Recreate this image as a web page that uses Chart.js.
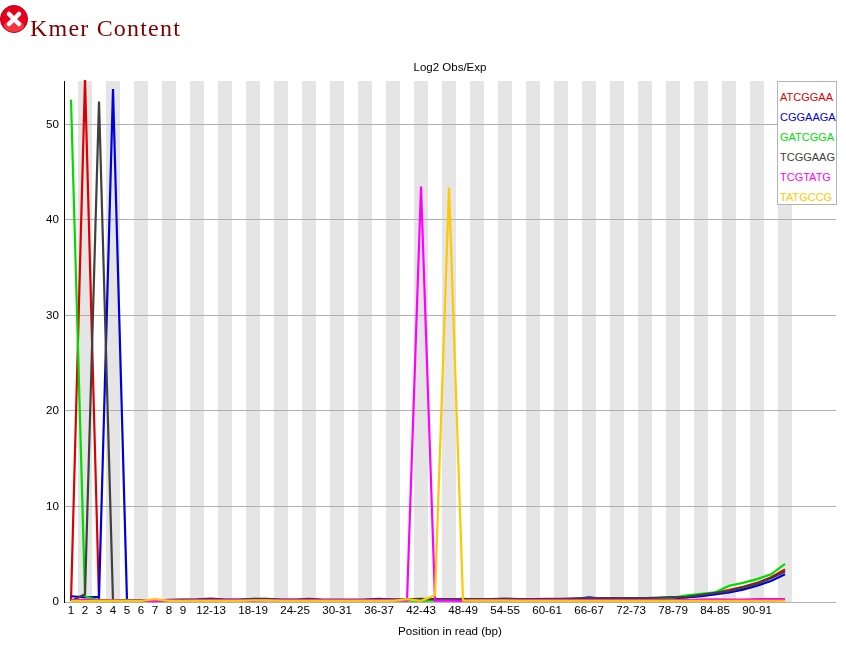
<!DOCTYPE html>
<html>
<head>
<meta charset="utf-8">
<title>Kmer Content</title>
<script src="https://cdn.jsdelivr.net/npm/chart.js@4/dist/chart.umd.min.js"></script>
<style>
  body { margin: 0; background: #fff; width: 846px; height: 649px; overflow: hidden; position: relative; }
  canvas { position: absolute; left: 0; top: 0; }
  #icon { position: absolute; left: 0; top: 5px; }
  h1 { position: absolute; left: 30px; top: 15px; margin: 0; font: normal 24px "Liberation Serif", serif; letter-spacing: 1.2px; color: #800000; }
  #legend { position: absolute; left: 777px; top: 81px; width: 58px; height: 122px; background: #fff; border: 1px solid #b4b4b4; font: 11px "Liberation Sans", sans-serif; }
  #legend div { position: absolute; left: 2px; white-space: nowrap; }
</style>
</head>
<body>
<canvas id="myChart" width="846" height="649"></canvas>
<svg id="icon" width="29" height="29" viewBox="0 0 29 29">
  <circle cx="14" cy="14" r="13.5" fill="#e8001c" stroke="#b00018"/>
  <ellipse cx="14" cy="21" rx="10" ry="6" fill="#ff5a5a" opacity="0.6"/>
  <path d="M9 9 L19 19 M19 9 L9 19" stroke="#fff" stroke-width="4.5" stroke-linecap="round"/>
</svg>
<h1>Kmer Content</h1>
<div id="legend"></div>
<script>
var categories = ['1','2','3','4','5','6','7','8','9','10-11','12-13','14-15','16-17','18-19','20-21','22-23','24-25','26-27','28-29','30-31','32-33','34-35','36-37','38-39','40-41','42-43','44-45','46-47','48-49','50-51','52-53','54-55','56-57','58-59','60-61','62-63','64-65','66-67','68-69','70-71','72-73','74-75','76-77','78-79','80-81','82-83','84-85','86-87','88-89','90-91','92-93','94-95'];
var shown_ticks = [0,1,2,3,4,5,6,7,8,10,13,16,19,22,25,28,31,34,37,40,43,46,49];
var y_ticks = [0,10,20,30,40,50];

var names = ['ATCGGAA','CGGAAGA','GATCGGA','TCGGAAG','TCGTATG','TATGCCG'];
var colors = ['rgb(220,0,0)','rgb(0,0,220)','rgb(0,220,0)','rgb(64,64,64)','rgb(255,0,255)','rgb(255,200,0)'];

var atcggaa = [0.1,54.8,0.2,0.15,0.15,0.18,0.15,0.2,0.2,0.2,0.22,0.2,0.2,0.22,0.22,0.2,0.2,0.2,0.18,0.18,0.18,0.18,0.2,0.2,0.2,0.22,0.2,0.22,0.22,0.2,0.2,0.22,0.2,0.2,0.22,0.22,0.25,0.28,0.28,0.28,0.3,0.32,0.35,0.38,0.5,0.7,0.95,1.25,1.6,2.0,2.6,3.4];
var cggaaga = [0.6,0.5,0.5,53.7,0.15,0.18,0.15,0.2,0.22,0.22,0.3,0.22,0.22,0.32,0.32,0.22,0.22,0.22,0.2,0.2,0.2,0.22,0.32,0.22,0.22,0.25,0.3,0.25,0.32,0.25,0.22,0.25,0.22,0.22,0.25,0.25,0.3,0.48,0.32,0.32,0.32,0.36,0.42,0.45,0.48,0.6,0.8,1.0,1.3,1.7,2.2,2.9];
var gatcgga = [52.6,0.6,0.15,0.15,0.22,0.15,0.15,0.18,0.18,0.2,0.2,0.2,0.2,0.2,0.2,0.2,0.2,0.2,0.18,0.18,0.18,0.18,0.2,0.18,0.18,0.12,0.2,0.2,0.2,0.2,0.2,0.22,0.2,0.2,0.22,0.22,0.25,0.28,0.28,0.28,0.28,0.32,0.35,0.45,0.7,0.85,1.0,1.7,2.0,2.4,2.9,4.0];
var tcggaag = [0.1,0.8,52.4,0.1,0.15,0.15,0.15,0.22,0.25,0.28,0.36,0.26,0.26,0.3,0.3,0.26,0.26,0.34,0.25,0.25,0.25,0.25,0.27,0.27,0.27,0.34,0.27,0.3,0.3,0.3,0.3,0.36,0.3,0.3,0.34,0.34,0.38,0.4,0.4,0.4,0.4,0.42,0.46,0.5,0.55,0.75,0.95,1.15,1.5,1.9,2.5,3.2];
var tcgtatg = [0.15,0.25,0.15,0.15,0.15,0.15,0.1,0.2,0.15,0.2,0.2,0.2,0.2,0.12,0.2,0.2,0.2,0.2,0.2,0.2,0.2,0.2,0.2,0.2,0.15,43.5,0.15,0.15,0.12,0.2,0.2,0.2,0.2,0.2,0.2,0.2,0.2,0.2,0.2,0.2,0.2,0.2,0.2,0.2,0.2,0.25,0.28,0.25,0.25,0.3,0.3,0.3];
var tatgccg = [0.12,0.1,0.12,0.12,0.12,0.12,0.3,0.12,0.12,0.12,0.12,0.12,0.12,0.18,0.18,0.12,0.12,0.12,0.12,0.12,0.12,0.12,0.12,0.12,0.3,0.12,0.7,43.4,0.14,0.14,0.14,0.14,0.12,0.12,0.12,0.12,0.12,0.12,0.12,0.12,0.12,0.12,0.12,0.12,0.12,0.12,0.12,0.12,0.12,0.12,0.12,0.12];
var all_series = [atcggaa,cggaaga,gatcgga,tcggaag,tcgtatg,tatgccg];

// grey stripe behind every second position
var stripes = {
  id: 'stripes',
  beforeDraw: function(chart) {
    var c = chart.ctx, a = chart.chartArea, x = chart.scales.x;
    c.save();
    c.fillStyle = '#e5e5e5';
    for (let i = 1; i < categories.length; i = i + 2) {
      let l = x.getPixelForValue(i - 0.5);
      let r = x.getPixelForValue(i + 0.5);
      c.fillRect(l, a.top, r - l, a.bottom - a.top);
    }
    c.restore();
  }
};

var datasets = all_series.map(function(vals, s) {
  return {
    label: names[s],
    data: vals.map(function(v, i) { return {x: i, y: v}; }),
    borderColor: colors[s],
    backgroundColor: colors[s],
    borderWidth: 2.2,
    pointRadius: 0,
    tension: 0,
    fill: false,
    clip: 1,
    order: all_series.length - s
  };
});

var tick_font = {family: '"Liberation Sans", sans-serif', size: 11.6};

var ctx = document.getElementById('myChart').getContext('2d');
var chart = new Chart(ctx, {
  type: 'line',
  data: {datasets: datasets},
  plugins: [stripes],
  options: {
    responsive: false,
    animation: false,
    events: [],
    layout: {padding: {top: 62, right: 10, left: 0, bottom: 10}},
    plugins: {
      legend: {display: false},
      tooltip: {enabled: false},
      title: {
        display: true,
        text: 'Log2 Obs/Exp',
        fullSize: false,
        color: '#000',
        font: {family: '"Liberation Sans", sans-serif', size: 11.5, weight: 'normal', lineHeight: 1},
        padding: {top: 0, bottom: 7.5}
      }
    },
    scales: {
      x: {
        type: 'linear',
        min: -0.5,
        max: 54.64,
        grid: {display: false, drawTicks: false},
        border: {display: false},
        afterBuildTicks: function(s) {
          s.ticks = shown_ticks.map(function(i) { return {value: i}; });
        },
        afterFit: function(s) { s.height = 37; },
        ticks: {
          autoSkip: false,
          maxRotation: 0,
          padding: 2,
          color: '#000',
          font: tick_font,
          callback: function(v) { return categories[v]; }
        },
        title: {display: true, text: 'Position in read (bp)', color: '#000', font: tick_font, padding: {top: 7, bottom: 0}}
      },
      y: {
        min: 0,
        max: 54.55,
        grid: {color: '#b0b0b0', drawTicks: false},
        border: {color: '#000', width: 1},
        afterBuildTicks: function(s) {
          s.ticks = y_ticks.map(function(v) { return {value: v}; });
        },
        afterFit: function(s) { s.width = 64; },
        ticks: {padding: 5, color: '#000', font: tick_font}
      }
    }
  }
});

var legend = document.getElementById('legend');
names.forEach(function(n, i) {
  var d = document.createElement('div');
  d.textContent = n;
  d.style.color = colors[i];
  d.style.top = (9 + i * 20) + 'px';
  legend.appendChild(d);
});
</script>
</body>
</html>
